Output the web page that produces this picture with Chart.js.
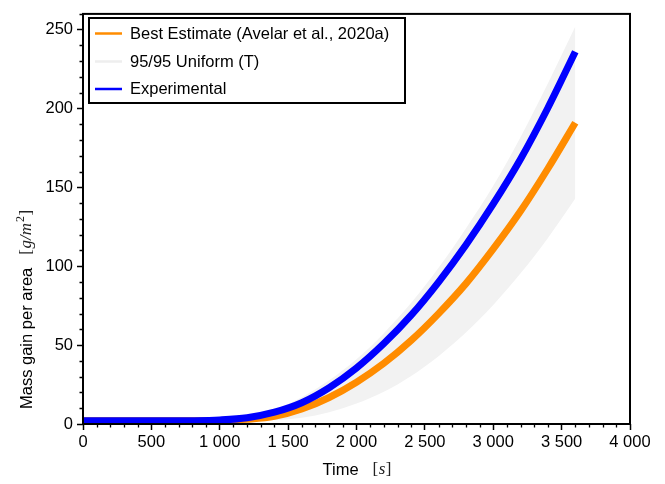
<!DOCTYPE html>
<html>
<head>
<meta charset="utf-8">
<script src="https://cdn.jsdelivr.net/npm/chart.js@4.4.1/dist/chart.umd.min.js"></script>
<style>
  html, body { margin: 0; padding: 0; background: #ffffff; }
  #wrap { width: 665px; height: 484px; position: relative; }
</style>
</head>
<body>
<div id="wrap"><canvas id="chart" width="665" height="484"></canvas></div>
<script>
// Time axis samples (s)
const times = [0, 200, 400, 600, 800, 1000, 1200, 1400, 1600, 1800, 2000, 2200, 2400, 2600, 2800, 3000, 3200, 3400, 3600];

// Mass gain per area (g/m^2)
const experimental = [2, 2, 2, 2, 2.1, 2.6, 4.0, 7.5, 13.5, 23, 35.5, 51, 69, 90, 113.5, 139.5, 168, 200.5, 236];
const bestEstimate = [2, 2, 2, 2, 2, 2.2, 3, 4.8, 9.5, 16.8, 26.5, 38.5, 53, 70, 89, 111, 135, 162, 191];
const bandUpper    = [2, 2, 2, 2, 2.1, 2.8, 4.4, 9.2, 17, 27.7, 41, 57.6, 76.8, 99, 124, 151, 182, 216, 252];
const bandLower    = [2, 2, 2, 2, 2, 2, 2, 2.5, 4, 7.5, 13, 20.5, 30.5, 43, 58, 75.5, 95.5, 118, 143];

// Axis ticks
const xTicks = [0, 500, 1000, 1500, 2000, 2500, 3000, 3500, 4000];
const yTicks = [0, 50, 100, 150, 200, 250];
const xMinorStep = 100;
const yMinorStep = 10;

// Legend entries
const legendLabels = ['Best Estimate (Avelar et al., 2020a)', '95/95 Uniform (T)', 'Experimental'];
const legendColors = ['#ff8c00', '#eeeeee', '#0000ff'];

const SANS = '"Liberation Sans", Arial, Helvetica, sans-serif';
const SERIF = '"Liberation Serif", "Times New Roman", serif';
const FONT_SIZE = 16.5;

const toPoints = (ys) => times.map((t, i) => ({ x: t, y: ys[i] }));

function fmtThousands(v) {
  if (v < 1000) return String(v);
  return Math.floor(v / 1000) + ' ' + String(v % 1000).padStart(3, '0');
}

// Minor ticks, frame, axis titles and in-plot legend
const decorations = {
  id: 'decorations',
  afterDraw(chart) {
    const ctx = chart.ctx;
    const area = chart.chartArea;
    const xs = chart.scales.x;
    const ys = chart.scales.y;
    ctx.save();

    // minor ticks
    ctx.strokeStyle = '#000';
    ctx.lineWidth = 1.3;
    ctx.beginPath();
    for (let v = xs.min; v <= xs.max + 1e-6; v += xMinorStep) {
      if (xTicks.includes(v)) continue;
      const px = Math.round(xs.getPixelForValue(v)) + 0.5;
      ctx.moveTo(px, area.bottom);
      ctx.lineTo(px, area.bottom + 3.5);
    }
    for (let v = ys.min; v <= ys.max + 1e-6; v += yMinorStep) {
      if (yTicks.includes(v)) continue;
      const py = Math.round(ys.getPixelForValue(v)) + 0.5;
      ctx.moveTo(area.left, py);
      ctx.lineTo(area.left - 3.5, py);
    }
    ctx.stroke();

    // frame
    ctx.lineWidth = 2;
    ctx.strokeRect(area.left, area.top, area.right - area.left, area.bottom - area.top);

    // x title
    ctx.fillStyle = '#000';
    ctx.textBaseline = 'middle';
    ctx.textAlign = 'left';
    const xTitleY = 470;
    ctx.font = FONT_SIZE + 'px ' + SANS;
    const timeW = ctx.measureText('Time').width;
    ctx.font = '17px ' + SERIF;
    const unitW = ctx.measureText('[s]').width;
    const gap = 14;
    let x0 = (area.left + area.right) / 2 - (timeW + gap + unitW) / 2;
    ctx.font = FONT_SIZE + 'px ' + SANS;
    ctx.fillText('Time', x0, xTitleY);
    drawUnitX(ctx, x0 + timeW + gap, xTitleY);

    // y title (rotated)
    ctx.save();
    ctx.translate(27, 409);
    ctx.rotate(-Math.PI / 2);
    ctx.font = FONT_SIZE + 'px ' + SANS;
    ctx.fillStyle = '#000';
    ctx.fillText('Mass gain per area', 0, 0);
    const mw = ctx.measureText('Mass gain per area').width;
    drawUnitY(ctx, mw + 13, 0);
    ctx.restore();

    // legend
    const lx = 89, ly = 18, lw = 316, lh = 85;
    ctx.fillStyle = '#fff';
    ctx.fillRect(lx, ly, lw, lh);
    ctx.lineWidth = 2;
    ctx.strokeStyle = '#000';
    ctx.strokeRect(lx, ly, lw, lh);
    const rows = [33.5, 61.5, 89];
    legendLabels.forEach((label, i) => {
      ctx.strokeStyle = legendColors[i];
      ctx.lineWidth = 2.5;
      ctx.beginPath();
      ctx.moveTo(95, rows[i]);
      ctx.lineTo(122, rows[i]);
      ctx.stroke();
      ctx.fillStyle = '#000';
      ctx.font = FONT_SIZE + 'px ' + SANS;
      ctx.textAlign = 'left';
      ctx.textBaseline = 'middle';
      ctx.fillText(label, 130, rows[i] + 0.5);
    });
    ctx.restore();
  }
};

function drawUnitX(ctx, x, y) {
  ctx.fillStyle = '#222';
  ctx.font = '17px ' + SERIF;
  ctx.fillText('[', x, y);
  let w = ctx.measureText('[').width;
  ctx.font = 'italic 17px ' + SERIF;
  ctx.fillText('s', x + w + 0.5, y);
  w += ctx.measureText('s').width + 1;
  ctx.font = '17px ' + SERIF;
  ctx.fillText(']', x + w, y);
}

function drawUnitY(ctx, x, y) {
  ctx.fillStyle = '#222';
  let cx = x;
  ctx.font = '17px ' + SERIF;
  ctx.fillText('[', cx, y);
  cx += ctx.measureText('[').width + 0.5;
  ctx.font = 'italic 17px ' + SERIF;
  ctx.fillText('g/m', cx, y);
  cx += ctx.measureText('g/m').width + 1;
  ctx.font = '12px ' + SERIF;
  ctx.fillText('2', cx, y - 6);
  cx += ctx.measureText('2').width + 0.5;
  ctx.font = '17px ' + SERIF;
  ctx.fillText(']', cx, y);
}

new Chart(document.getElementById('chart'), {
  type: 'line',
  data: {
    datasets: [
      {
        label: legendLabels[2],
        data: toPoints(experimental),
        borderColor: '#0000ff',
        borderWidth: 7,
        pointRadius: 0,
        cubicInterpolationMode: 'monotone',
        fill: false,
        order: 0
      },
      {
        label: legendLabels[0],
        data: toPoints(bestEstimate),
        borderColor: '#ff8c00',
        borderWidth: 7,
        pointRadius: 0,
        cubicInterpolationMode: 'monotone',
        fill: false,
        order: 1
      },
      {
        label: legendLabels[1],
        data: toPoints(bandUpper),
        borderWidth: 0,
        borderColor: 'rgba(0,0,0,0)',
        backgroundColor: '#f2f2f2',
        pointRadius: 0,
        cubicInterpolationMode: 'monotone',
        fill: 3,
        order: 2
      },
      {
        label: legendLabels[1] + ' lower',
        data: toPoints(bandLower),
        borderWidth: 0,
        borderColor: 'rgba(0,0,0,0)',
        pointRadius: 0,
        cubicInterpolationMode: 'monotone',
        fill: false,
        order: 3
      }
    ]
  },
  options: {
    responsive: false,
    animation: false,
    events: [],
    layout: { padding: { left: 0, right: 35, top: 12, bottom: 0 } },
    plugins: {
      legend: { display: false },
      tooltip: { enabled: false },
      filler: { propagate: false }
    },
    scales: {
      x: {
        type: 'linear',
        min: 0,
        max: 4000,
        afterBuildTicks: (s) => { s.ticks = xTicks.map(v => ({ value: v })); },
        afterFit: (s) => { s.height = 60; },
        ticks: {
          autoSkip: false,
          maxRotation: 0,
          padding: 3,
          color: '#000',
          font: { family: SANS, size: FONT_SIZE },
          callback: (v) => fmtThousands(v)
        },
        grid: {
          drawOnChartArea: false,
          drawTicks: true,
          tickLength: 6,
          tickColor: '#000',
          tickWidth: 1.5
        },
        border: { display: false }
      },
      y: {
        type: 'linear',
        min: 0,
        max: 260,
        afterBuildTicks: (s) => { s.ticks = yTicks.map(v => ({ value: v })); },
        afterFit: (s) => { s.width = 83; },
        ticks: {
          autoSkip: false,
          padding: 4,
          color: '#000',
          font: { family: SANS, size: FONT_SIZE },
          callback: (v) => String(v)
        },
        grid: {
          drawOnChartArea: false,
          drawTicks: true,
          tickLength: 6,
          tickColor: '#000',
          tickWidth: 1.5
        },
        border: { display: false }
      }
    }
  },
  plugins: [decorations]
});
</script>
</body>
</html>
